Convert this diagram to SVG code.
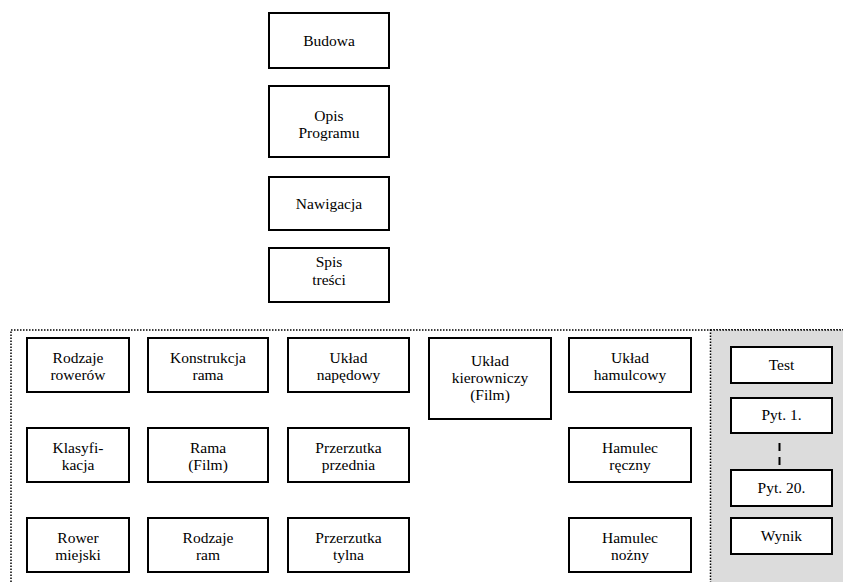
<svg xmlns="http://www.w3.org/2000/svg" width="843" height="582" viewBox="0 0 843 582">
<style>
.box{fill:#fff;stroke:#000;stroke-width:2}
.frame{fill:none;stroke:#000;stroke-width:1.5;stroke-dasharray:1.5 1.5}
.gray{fill:#dcdcdc;stroke:#000;stroke-width:1.5;stroke-dasharray:1.5 1.5}
text{font-family:"Times New Roman","Liberation Serif","DejaVu Serif",serif;font-size:15.5px;fill:#000;text-anchor:middle}
.conn{stroke:#000;stroke-width:2;stroke-dasharray:8 6;fill:none}
</style>
<rect width="843" height="582" fill="#fff"/>
<rect class="frame" x="11" y="330" width="900" height="300"/>
<rect class="gray" x="710.5" y="330" width="200" height="300"/>

<g id="budowa"><rect class="box" x="269" y="13" width="120" height="55"/><text x="329" y="46">Budowa</text></g>
<g id="opis"><rect class="box" x="269" y="86" width="120" height="71"/><text x="329" y="121">Opis</text><text x="329" y="138">Programu</text></g>
<g id="nawigacja"><rect class="box" x="269" y="177" width="120" height="53"/><text x="329" y="209">Nawigacja</text></g>
<g id="spis"><rect class="box" x="269" y="248" width="120" height="54"/><text x="329" y="267">Spis</text><text x="329" y="285">treści</text></g>

<g id="rodzaje-rowerow"><rect class="box" x="27" y="338" width="102" height="54"/><text x="78" y="362.5">Rodzaje</text><text x="78" y="380">rowerów</text></g>
<g id="konstrukcja-rama"><rect class="box" x="148" y="338" width="120" height="54"/><text x="208" y="362.5">Konstrukcja</text><text x="208" y="380">rama</text></g>
<g id="uklad-napedowy"><rect class="box" x="288" y="338" width="121" height="54"/><text x="348.5" y="362.5">Układ</text><text x="348.5" y="380">napędowy</text></g>
<g id="uklad-kierowniczy"><rect class="box" x="429" y="338" width="122" height="81"/><text x="490" y="366">Układ</text><text x="490" y="383">kierowniczy</text><text x="490" y="400">(Film)</text></g>
<g id="uklad-hamulcowy"><rect class="box" x="569" y="338" width="122" height="54"/><text x="630" y="362.5">Układ</text><text x="630" y="380">hamulcowy</text></g>

<g id="klasyfikacja"><rect class="box" x="27" y="428" width="102" height="54"/><text x="78" y="452.5">Klasyfi-</text><text x="78" y="470">kacja</text></g>
<g id="rama-film"><rect class="box" x="148" y="428" width="120" height="54"/><text x="208" y="452.5">Rama</text><text x="208" y="470">(Film)</text></g>
<g id="przerzutka-przednia"><rect class="box" x="288" y="428" width="121" height="54"/><text x="348.5" y="452.5">Przerzutka</text><text x="348.5" y="470">przednia</text></g>
<g id="hamulec-reczny"><rect class="box" x="569" y="428" width="122" height="54"/><text x="630" y="452.5">Hamulec</text><text x="630" y="470">ręczny</text></g>

<g id="rower-miejski"><rect class="box" x="27" y="518" width="102" height="54"/><text x="78" y="542.5">Rower</text><text x="78" y="560">miejski</text></g>
<g id="rodzaje-ram"><rect class="box" x="148" y="518" width="120" height="54"/><text x="208" y="542.5">Rodzaje</text><text x="208" y="560">ram</text></g>
<g id="przerzutka-tylna"><rect class="box" x="288" y="518" width="121" height="54"/><text x="348.5" y="542.5">Przerzutka</text><text x="348.5" y="560">tylna</text></g>
<g id="hamulec-nozny"><rect class="box" x="569" y="518" width="122" height="54"/><text x="630" y="542.5">Hamulec</text><text x="630" y="560">nożny</text></g>

<g id="test"><rect class="box" x="731" y="347" width="101" height="36"/><text x="781.5" y="370">Test</text></g>
<g id="pyt1"><rect class="box" x="731" y="398" width="101" height="35"/><text x="781.5" y="420">Pyt. 1.</text></g>
<g id="pyt20"><rect class="box" x="731" y="470" width="101" height="36"/><text x="781.5" y="493">Pyt. 20.</text></g>
<g id="wynik"><rect class="box" x="731" y="518" width="101" height="36"/><text x="781.5" y="541">Wynik</text></g>

<g id="connectors"><line class="conn" x1="779.5" y1="443" x2="779.5" y2="467"/></g>
</svg>
